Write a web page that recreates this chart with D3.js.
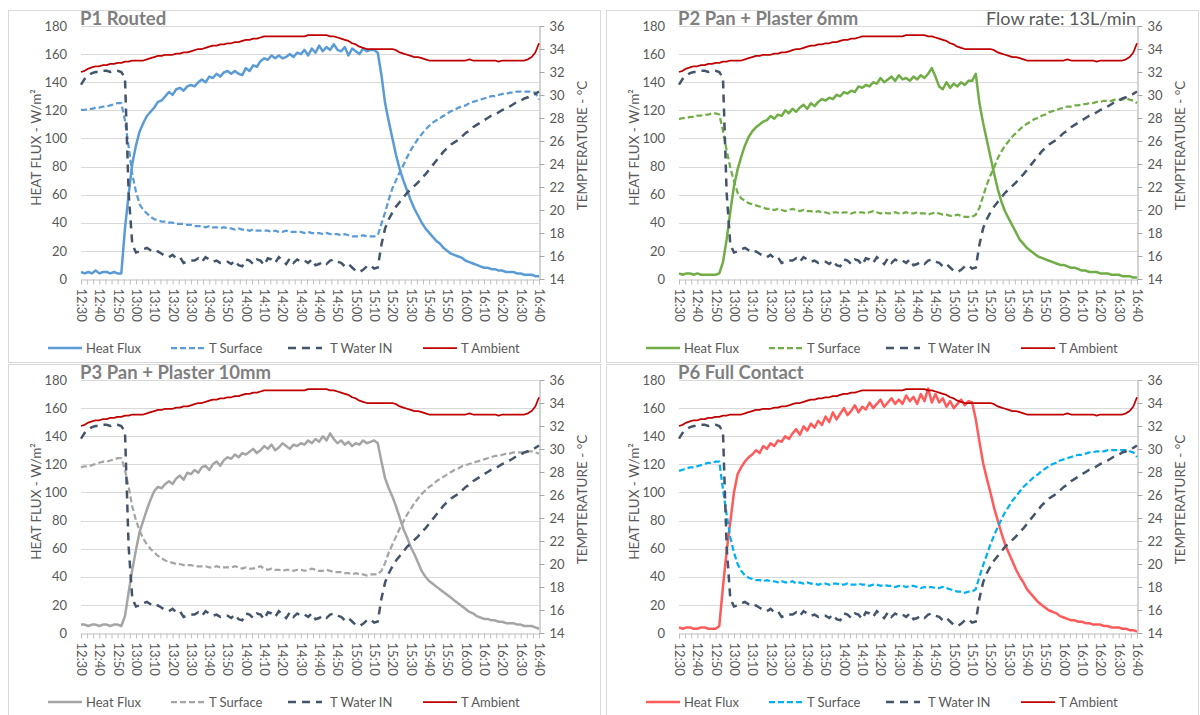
<!DOCTYPE html>
<html>
<head>
<meta charset="utf-8">
<script src="https://cdn.jsdelivr.net/npm/d3@7"></script>
<style>
  body { margin: 0; background: #fff; }
  text { font-family: Lato, "Open Sans", sans-serif; }
</style>
</head>
<body>
<svg id="chart" width="1200" height="715"></svg>
<script>
// sample times: minutes after 12:30, every 2 minutes
const minutes = d3.range(0, 251, 2);
const tickLabels = ["12:30","12:40","12:50","13:00","13:10","13:20","13:30","13:40","13:50",
  "14:00","14:10","14:20","14:30","14:40","14:50","15:00","15:10","15:20","15:30","15:40",
  "15:50","16:00","16:10","16:20","16:30","16:40"];
const hfTicks = [0, 20, 40, 60, 80, 100, 120, 140, 160, 180];
const tTicks = [14, 16, 18, 20, 22, 24, 26, 28, 30, 32, 34, 36];

const titles = ["P1 Routed", "P2 Pan + Plaster 6mm", "P3 Pan + Plaster 10mm", "P6 Full Contact"];
const seriesNames = ["Heat Flux", "T Surface", "T Water IN", "T Ambient"];

// shared across panels
const tWater = [
  30.9,31.4,31.7,31.9,32.0,32.0,32.1,32.1,32.0,32.1,
  32.1,32.0,31.5,21.5,17.0,16.3,16.4,16.6,16.7,16.5,
  16.3,16.4,16.2,16.0,15.9,16.1,15.8,15.9,15.4,15.5,
  15.6,15.6,15.8,15.5,15.9,15.7,15.5,15.6,15.4,15.5,
  15.5,15.3,15.6,15.2,15.1,15.7,15.6,15.3,15.7,15.6,
  15.2,15.8,15.7,15.4,15.9,15.6,15.3,15.8,15.4,15.7,
  15.5,15.6,15.4,15.7,15.2,15.3,15.5,15.3,15.6,15.7,
  15.5,15.4,15.1,15.3,15.0,14.7,14.6,14.8,15.1,15.2,
  14.9,15.0,17.0,18.4,19.2,19.8,20.3,20.7,21.1,21.5,
  21.8,22.1,22.4,22.8,23.1,23.5,23.9,24.3,24.7,25.1,
  25.4,25.7,25.9,26.1,26.4,26.7,26.9,27.2,27.4,27.6,
  27.8,28.0,28.2,28.3,28.5,28.7,28.8,29.0,29.2,29.4,
  29.5,29.7,29.8,30.0,30.1,30.3];
const tAmbient = [
  32.0,32.1,32.3,32.4,32.5,32.5,32.6,32.6,32.7,32.7,
  32.8,32.8,32.9,32.9,33.0,33.0,33.0,33.0,33.1,33.2,
  33.3,33.4,33.4,33.5,33.5,33.5,33.6,33.6,33.7,33.7,
  33.8,33.9,34.0,34.0,34.1,34.2,34.3,34.3,34.4,34.4,
  34.5,34.5,34.6,34.6,34.7,34.8,34.8,34.9,34.9,35.0,
  35.1,35.1,35.1,35.1,35.1,35.1,35.1,35.1,35.1,35.1,
  35.1,35.1,35.2,35.2,35.2,35.2,35.2,35.2,35.1,35.1,
  35.0,34.9,34.8,34.7,34.5,34.4,34.2,34.1,34.0,34.0,
  34.0,34.0,34.0,34.0,34.0,34.0,33.9,33.7,33.6,33.5,
  33.4,33.3,33.3,33.2,33.1,33.0,33.0,33.0,33.0,33.0,
  33.0,33.0,33.0,33.0,33.0,33.0,33.1,33.0,33.0,33.0,
  33.0,33.0,33.0,33.0,32.9,33.0,33.0,33.0,33.0,33.0,
  33.0,33.0,33.1,33.3,33.7,34.5];

const hfP1 = [
  5,4,5,4,6,4,5,5,4,5,
  4,4,36,60,82,95,105,111,116,119,
  122,126,127,130,133,131,135,136,134,137,
  138,137,140,142,140,144,143,146,144,147,
  148,146,148,146,145,150,148,152,151,155,
  157,156,159,157,159,157,158,160,158,161,
  160,163,159,164,161,166,162,165,163,167,
  163,162,165,159,164,162,160,164,162,163,
  163,161,145,125,112,100,88,78,70,63,
  56,50,45,40,36,33,30,27,25,22,
  20,18,17,16,15,13,12,11,10,9,
  8,8,7,7,6,6,5,5,5,4,
  4,3,3,3,2,2];
const tsP1 = [
  28.7,28.7,28.8,28.8,28.9,28.9,29.0,29.0,29.1,29.2,
  29.3,29.3,27.8,25.5,23.1,21.6,20.5,20.0,19.7,19.4,
  19.2,19.1,19.0,19.0,18.9,18.9,18.8,18.8,18.8,18.7,
  18.7,18.6,18.6,18.6,18.5,18.6,18.5,18.5,18.4,18.5,
  18.4,18.4,18.3,18.4,18.3,18.3,18.2,18.3,18.2,18.2,
  18.2,18.2,18.1,18.2,18.1,18.1,18.2,18.1,18.1,18.1,
  18.1,18.0,18.1,18.0,18.0,18.0,17.9,18.0,17.9,17.9,
  17.9,17.8,17.9,17.8,17.7,17.7,17.7,17.8,17.7,17.7,
  17.7,17.8,18.8,19.8,20.9,21.9,22.6,23.3,23.9,24.6,
  25.2,25.7,26.2,26.6,27.0,27.3,27.6,27.8,28.0,28.2,
  28.4,28.6,28.7,28.9,29.0,29.1,29.3,29.4,29.5,29.6,
  29.7,29.8,29.9,29.9,30.0,30.1,30.1,30.2,30.2,30.3,
  30.3,30.3,30.3,30.3,30.2,29.6];

const hfP2 = [
  4,3,4,4,3,4,3,3,3,3,
  3,4,12,28,48,66,78,87,95,101,
  105,108,110,112,113,116,114,117,116,120,
  118,121,119,122,124,121,125,123,126,128,
  127,129,128,131,130,133,132,134,133,137,
  136,138,137,140,139,143,140,142,144,141,
  145,142,143,141,144,142,145,143,146,150,
  144,137,135,140,136,139,137,140,138,141,
  141,146,125,111,99,87,75,64,55,48,
  43,38,33,28,25,22,20,18,16,15,
  14,13,12,11,10,10,9,8,8,7,
  6,6,5,5,5,4,4,4,3,3,
  3,2,2,2,1,1];
const tsP2 = [
  27.9,28.0,28.0,28.1,28.1,28.2,28.2,28.3,28.3,28.4,
  28.4,28.3,26.9,25.2,23.7,22.5,21.5,21.0,20.8,20.6,
  20.5,20.4,20.3,20.2,20.1,20.1,20.0,20.1,20.0,19.9,
  20.0,20.1,20.0,19.9,20.0,19.9,19.9,19.8,19.9,19.8,
  19.8,19.7,19.8,19.8,19.7,19.8,19.8,19.7,19.8,19.8,
  19.8,19.7,19.8,19.9,19.8,19.7,19.8,19.7,19.7,19.8,
  19.7,19.7,19.8,19.7,19.7,19.8,19.7,19.7,19.6,19.7,
  19.8,19.7,19.6,19.6,19.5,19.5,19.6,19.5,19.4,19.4,
  19.4,19.6,20.2,21.2,22.2,23.0,23.7,24.5,25.1,25.6,
  26.0,26.4,26.7,27.0,27.3,27.5,27.7,27.9,28.0,28.2,
  28.3,28.5,28.6,28.7,28.8,28.9,29.0,29.0,29.1,29.1,
  29.2,29.2,29.3,29.3,29.4,29.4,29.5,29.5,29.5,29.6,
  29.6,29.6,29.7,29.6,29.5,29.3];

const hfP3 = [
  6,6,5,6,6,5,6,6,5,6,
  6,5,12,29,45,59,72,80,88,95,
  101,104,103,106,108,106,110,112,109,114,
  113,116,114,118,119,116,120,122,119,123,
  125,124,127,125,128,127,129,131,128,130,
  133,131,134,130,132,135,133,131,134,133,
  135,134,137,135,138,136,140,137,142,138,
  135,137,134,136,133,135,134,137,135,136,
  137,135,122,110,103,97,90,82,74,68,
  61,56,50,44,40,37,35,33,31,29,
  27,25,23,21,19,17,15,14,12,11,
  10,10,9,9,8,8,7,7,7,6,
  6,5,5,5,4,3];
const tsP3 = [
  28.4,28.5,28.5,28.6,28.7,28.8,28.9,28.9,29.0,29.1,
  29.2,29.2,28.2,26.7,25.0,23.8,22.9,22.2,21.7,21.3,
  21.0,20.7,20.5,20.3,20.2,20.1,20.0,20.0,19.9,19.9,
  19.9,19.8,19.8,19.8,19.8,19.7,19.7,19.8,19.7,19.7,
  19.7,19.7,19.8,19.7,19.6,19.7,19.6,19.6,19.7,19.8,
  19.6,19.5,19.6,19.5,19.5,19.4,19.5,19.5,19.4,19.5,
  19.5,19.4,19.5,19.6,19.5,19.4,19.4,19.5,19.4,19.3,
  19.3,19.3,19.2,19.2,19.1,19.2,19.1,19.1,19.0,19.1,
  19.1,19.1,19.4,20.1,21.0,21.7,22.4,23.1,23.7,24.3,
  24.8,25.3,25.7,26.1,26.4,26.7,26.9,27.2,27.4,27.6,
  27.8,28.0,28.2,28.3,28.5,28.6,28.7,28.8,28.9,29.0,
  29.1,29.2,29.3,29.4,29.4,29.5,29.6,29.6,29.7,29.7,
  29.7,29.7,29.8,29.8,29.7,29.6];

const hfP4 = [
  4,3,4,4,3,3,4,4,3,3,
  3,5,33,58,79,100,113,118,122,125,
  127,130,128,133,131,135,133,137,136,140,
  138,142,145,141,147,144,149,146,151,148,
  154,150,157,152,156,160,155,158,162,157,
  161,159,164,160,163,166,161,164,167,163,
  166,163,169,165,168,163,170,165,174,164,
  170,164,167,161,165,160,163,166,162,165,
  164,152,136,121,110,100,89,80,71,63,
  57,51,45,40,36,31,28,25,22,20,
  18,16,15,14,12,11,10,9,9,8,
  8,7,7,6,6,6,5,5,4,4,
  4,3,3,2,2,1];
const tsP4 = [
  28.1,28.2,28.3,28.4,28.4,28.5,28.6,28.7,28.8,28.8,
  28.9,28.9,26.5,24.3,22.3,21.0,20.0,19.4,19.0,18.8,
  18.7,18.6,18.6,18.5,18.6,18.5,18.5,18.4,18.5,18.4,
  18.4,18.5,18.3,18.4,18.3,18.4,18.3,18.3,18.2,18.3,
  18.3,18.2,18.3,18.3,18.2,18.2,18.3,18.2,18.2,18.3,
  18.2,18.2,18.1,18.2,18.2,18.1,18.2,18.1,18.1,18.0,
  18.1,18.1,18.0,18.1,18.1,18.0,17.9,18.0,18.0,18.0,
  17.9,17.9,18.0,17.9,17.8,17.7,17.6,17.6,17.5,17.6,
  17.6,17.8,18.9,19.9,20.8,21.7,22.5,23.2,23.9,24.5,
  25.0,25.5,25.9,26.3,26.7,27.0,27.3,27.6,27.8,28.1,
  28.3,28.5,28.7,28.8,29.0,29.1,29.2,29.3,29.4,29.5,
  29.5,29.6,29.7,29.7,29.8,29.8,29.8,29.9,29.9,29.9,
  29.9,29.9,29.9,29.8,29.7,29.3];

const panels = [
  { title: titles[0], hf: hfP1, ts: tsP1, hfColor: "#5B9BD5", tsColor: "#5B9BD5" },
  { title: titles[1], hf: hfP2, ts: tsP2, hfColor: "#70AD47", tsColor: "#70AD47" },
  { title: titles[2], hf: hfP3, ts: tsP3, hfColor: "#A5A5A5", tsColor: "#A5A5A5" },
  { title: titles[3], hf: hfP4, ts: tsP4, hfColor: "#FF5B5B", tsColor: "#00B0F0" }
];
const offsets = [[0, 0], [598, 0], [0, 354], [598, 354]];

const svg = d3.select("#chart");
const plotL = 81, plotR = 539, plotT = 26, plotB = 279;
const labelColor = "#595959";

const x = d3.scaleLinear().domain([0, 250]).range([plotL, plotR]);
const yHF = d3.scaleLinear().domain([0, 180]).range([plotB, plotT]);
const yT = d3.scaleLinear().domain([14, 36]).range([plotB, plotT]);

const minorTicks = d3.range(0, 76).map(k => k * 10 / 3);

const hfLine = d3.line().x((d, j) => x(minutes[j])).y(d => yHF(d));
const tLine = d3.line().x((d, j) => x(minutes[j])).y(d => yT(d));

const waterColor = "#44546A", ambientColor = "#C00000";

panels.forEach((p, i) => {
  const [ox, oy] = offsets[i];
  const g = svg.append("g").attr("transform", `translate(${ox},${oy})`);

  // chart frame
  g.append("rect")
    .attr("x", 8.5).attr("y", 10.5)
    .attr("width", 592).attr("height", 352)
    .attr("fill", "none").attr("stroke", "#D9D9D9");

  // gridlines
  g.append("g").selectAll("line")
    .data(hfTicks.slice(1))
    .enter().append("line")
    .attr("x1", plotL).attr("x2", plotR)
    .attr("y1", d => Math.round(yHF(d)) + 0.5)
    .attr("y2", d => Math.round(yHF(d)) + 0.5)
    .attr("stroke", "#D9D9D9");

  // left axis
  const la = g.append("g")
    .attr("transform", `translate(${plotL},0)`)
    .call(d3.axisLeft(yHF).tickValues(hfTicks).tickSize(0).tickPadding(14));
  la.select(".domain").remove();
  la.selectAll("text").attr("fill", labelColor).style("font-size", "13px");

  // bottom axis
  const ba = g.append("g")
    .attr("transform", `translate(0,${plotB + 0.5})`)
    .call(d3.axisBottom(x).tickValues(minorTicks).tickSize(5).tickSizeOuter(0)
      .tickFormat((d, k) => k % 3 === 0 ? tickLabels[k / 3] : ""));
  ba.select(".domain").attr("stroke", "#BFBFBF");
  ba.selectAll(".tick line").attr("stroke", "#BFBFBF");
  ba.selectAll("text")
    .attr("transform", "rotate(90)")
    .attr("x", 9).attr("y", 0).attr("dy", "0.35em")
    .style("text-anchor", "start")
    .attr("fill", labelColor).style("font-size", "13px");

  // right axis
  const ra = g.append("g")
    .attr("transform", `translate(${plotR + 0.5},0)`)
    .call(d3.axisRight(yT).tickValues(tTicks).tickSize(5).tickSizeOuter(0).tickPadding(5));
  ra.select(".domain").attr("stroke", "#A6A6A6");
  ra.selectAll(".tick line").attr("stroke", "#A6A6A6");
  ra.selectAll("text").attr("fill", labelColor).style("font-size", "13px");

  // axis titles
  g.append("text")
    .attr("transform", `translate(41,${(plotT + plotB) / 2 - 5}) rotate(-90)`)
    .attr("text-anchor", "middle").attr("fill", labelColor)
    .style("font-size", "13.5px")
    .text("HEAT FLUX - W/m²");
  g.append("text")
    .attr("transform", `translate(587,${(plotT + plotB) / 2 - 7}) rotate(-90)`)
    .attr("text-anchor", "middle").attr("fill", labelColor)
    .style("font-size", "13.5px")
    .text("TEMPTERATURE - °C");

  // series
  g.append("path").datum(p.hf).attr("d", hfLine)
    .attr("fill", "none").attr("stroke", p.hfColor)
    .attr("stroke-width", 2.5).attr("stroke-linejoin", "round");
  g.append("path").datum(p.ts).attr("d", tLine)
    .attr("fill", "none").attr("stroke", p.tsColor)
    .attr("stroke-width", 2.25).attr("stroke-dasharray", "6,3");
  g.append("path").datum(tWater).attr("d", tLine)
    .attr("fill", "none").attr("stroke", waterColor)
    .attr("stroke-width", 2.5).attr("stroke-dasharray", "8,6");
  g.append("path").datum(tAmbient).attr("d", tLine)
    .attr("fill", "none").attr("stroke", ambientColor)
    .attr("stroke-width", 1.75).attr("stroke-linejoin", "round");

  // title
  g.append("text")
    .attr("x", 80).attr("y", 25)
    .attr("fill", "#7F7F7F")
    .style("font-size", "18.5px").style("font-weight", "bold")
    .text(p.title);

  // legend
  const legendX = [48, 171, 288, 423];
  const legendStyles = [
    { color: p.hfColor, width: 2.5, dash: null },
    { color: p.tsColor, width: 2.25, dash: "6,3" },
    { color: waterColor, width: 2.5, dash: "8,6" },
    { color: ambientColor, width: 1.75, dash: null }
  ];
  seriesNames.forEach((name, k) => {
    const lx = legendX[k], ly = 348;
    g.append("line")
      .attr("x1", lx).attr("x2", lx + 34).attr("y1", ly).attr("y2", ly)
      .attr("stroke", legendStyles[k].color)
      .attr("stroke-width", legendStyles[k].width)
      .attr("stroke-dasharray", legendStyles[k].dash);
    g.append("text")
      .attr("x", k === 2 ? lx + 42 : lx + 38).attr("y", ly + 5)
      .attr("fill", labelColor).style("font-size", "13px")
      .text(name);
  });
});

// flow rate note on the second panel
svg.append("text")
  .attr("x", 1136).attr("y", 25)
  .attr("text-anchor", "end").attr("fill", labelColor)
  .style("font-size", "18px")
  .text("Flow rate: 13L/min");
</script>
</body>
</html>
